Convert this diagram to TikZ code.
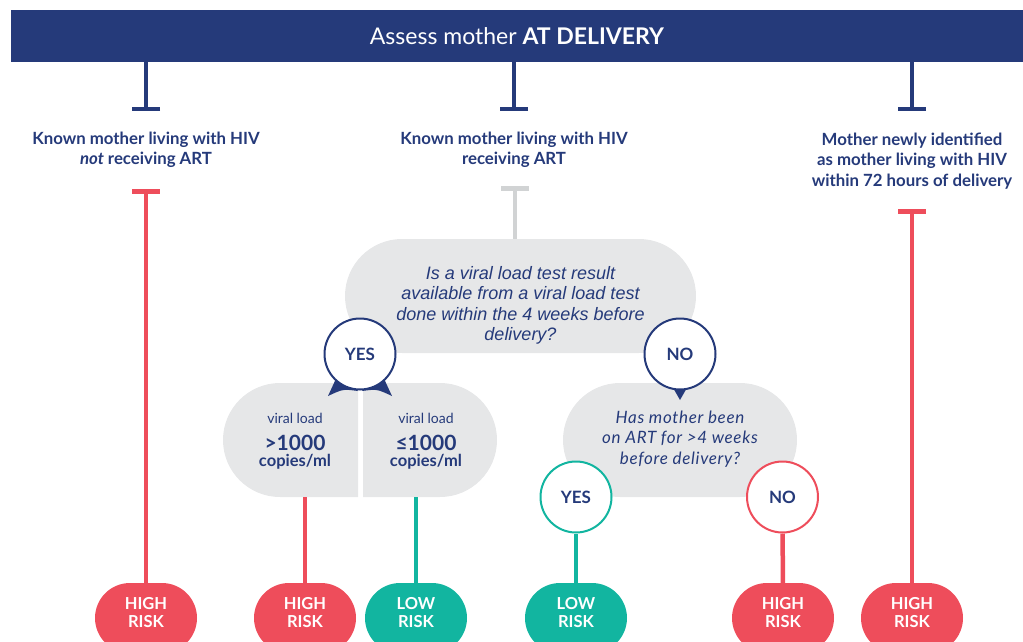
\documentclass[tikz,border=0pt]{standalone}
\usepackage{fontspec}
\setmainfont{Lato}
\newfontfamily\arialfont{Liberation Sans}
\newfontfamily\wideit[LetterSpace=4]{Lato}
\usetikzlibrary{shapes.misc,arrows.meta}
\definecolor{navy}{HTML}{253A7A}
\definecolor{hired}{HTML}{EE4D5B}
\definecolor{logreen}{HTML}{12B5A0}
\definecolor{pillgray}{HTML}{E6E7E8}
\definecolor{teegray}{HTML}{D1D3D4}

\begin{document}
\begin{tikzpicture}[x=1pt,y=-1pt,
	topbar/.style={fill=navy,text=white,inner sep=0,minimum width=1012pt,minimum height=52pt,font=\fontsize{23}{26}\selectfont},
	know/.style={text=navy,align=center,font=\bfseries\fontsize{16.8}{20.5}\selectfont},
	navytee/.style={draw=navy,line width=4.5pt,-{Bar[width=28pt]}},
	coltee/.style={line width=4.5pt,{Bar[width=28pt]}-},
	colline/.style={line width=4.5pt},
	ask/.style={rounded rectangle,fill=pillgray,inner sep=0,minimum height=114pt},
	asktxt/.style={text=navy,align=center,font=\arialfont\itshape\fontsize{18}{20.5}\selectfont},
	asktxtb/.style={text=navy,align=center,font=\wideit\itshape\fontsize{17}{20.5}\selectfont},
	yn/.style={circle,line width=2pt,fill=white,minimum size=71pt,inner sep=0,text=navy,font=\bfseries\fontsize{17}{17}\selectfont},
	risk/.style={rounded rectangle,minimum width=102pt,minimum height=70pt,inner sep=0},
	risklbl/.style={text=white,align=center,font=\bfseries\fontsize{16.5}{18}\selectfont,yshift=5pt}]
	\useasboundingbox (0,0) rectangle (1023,641);
	% header and the three groups
	\node[topbar] (top) at (517,36) {Assess mother \textbf{AT DELIVERY}};
	\node[know] (k1) at (146,150) {Known mother living with HIV\\\textit{not} receiving ART};
	\node[know] (k2) at (514,150) {Known mother living with HIV\\receiving ART};
	\node[know] (k3) at (912,161) {Mother newly identified\\as mother living with HIV\\\textbf{within 72 hours of delivery}};
	\coordinate (t1) at (146,111);
	\coordinate (t2) at (514,111);
	\coordinate (t3) at (912,111);
	\draw[navytee] (top.south -| t1) -- (t1);
	\draw[navytee] (top.south -| t2) -- (t2);
	\draw[navytee] (top.south -| t3) -- (t3);
	% questions
	\node[ask,minimum width=351pt,label={[asktxt,yshift=-9.5pt]center:Is a viral load test result\\available from a viral load test\\done within the 4 weeks before\\delivery?}] (q1) at (520.5,296) {};
	\node[ask,rounded rectangle right arc=none,minimum width=135pt] (h1) at (290.5,440) {};
	\node[ask,rounded rectangle left arc=none,minimum width=134pt] (h2) at (430,440) {};
	\node[ask,minimum width=234pt,label={[asktxtb,yshift=1pt]center:Has mother been\\on ART for >4 weeks\\before delivery?}] (q2) at (680,440) {};
	\foreach \n/\x/\s in {1/295/{>}, 2/426/{≤}} {
		\node[anchor=base,text=navy,font=\fontsize{14}{14}\selectfont] (v\n a) at (\x,423.5) {viral load};
		\node[anchor=base,text=navy,font=\bfseries\fontsize{21}{21}\selectfont] (v\n b) at (\x,450) {\s1000};
		\node[anchor=base,text=navy,font=\bfseries\fontsize{16.5}{16.5}\selectfont] (v\n c) at (\x,466.5) {copies/ml};
	}
	% outcomes
	\foreach \n/\x/\c/\w in {1/146/hired/HIGH, 2/305/hired/HIGH, 3/416/logreen/LOW, 4/576/logreen/LOW, 5/783/hired/HIGH, 6/912/hired/HIGH}
		\node[risk,fill=\c,label={[risklbl]center:\w\\RISK}] (r\n) at (\x,618) {};
	% yes / no
	\fill[navy] (340,370) -- (328,396) .. controls (343,389) .. (358,391) -- cycle;
	\fill[navy] (380,370) -- (392,396) .. controls (377,389) .. (362,391) -- cycle;
	\fill[navy] (672,386) -- (688,386) -- (680,400) -- cycle;
	\node[yn,draw=navy] (y1) at (360,354) {YES};
	\node[yn,draw=navy] (n1) at (680,354) {NO};
	\node[yn,draw=logreen] (g1) at (576,497) {YES};
	\node[yn,draw=hired] (n2) at (782.5,497) {NO};
	% connectors
	\coordinate (c1) at (146,189);
	\coordinate (c2) at (515,186);
	\coordinate (c3) at (912,209);
	\draw[coltee,hired] (c1) -- (r1);
	\draw[coltee,teegray] (c2) -- (c2 |- q1.north);
	\draw[coltee,hired] (c3) -- (r6);
	\draw[colline,hired] (r2 |- h1.south) -- (r2);
	\draw[colline,logreen] (r3 |- h2.south) -- (r3);
	\draw[colline,logreen] (g1) -- (r4);
	\draw[colline,hired] (n2) -- (r5);
\end{tikzpicture}
\end{document}
